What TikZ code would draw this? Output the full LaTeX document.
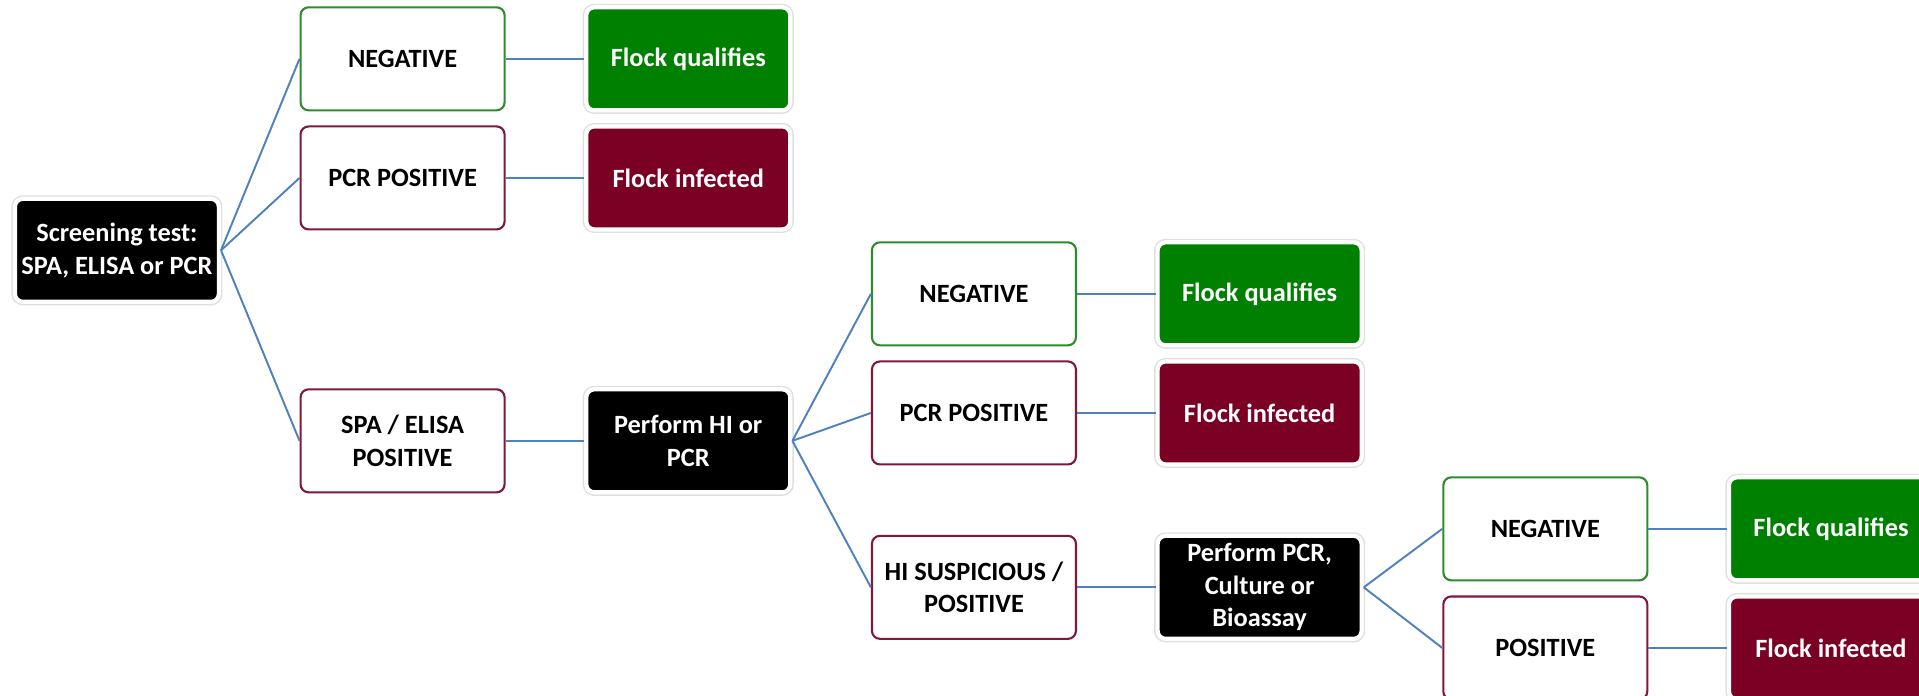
\documentclass[tikz,border=0pt]{standalone}
\usepackage{fontspec}
\setmainfont{Carlito}
\usetikzlibrary{positioning}
\definecolor{okgreen}{RGB}{0,128,0}
\definecolor{badred}{RGB}{122,0,36}
\definecolor{okedge}{RGB}{46,139,46}
\definecolor{badedge}{RGB}{128,24,56}
\definecolor{linkblue}{RGB}{79,129,189}
\tikzstyle{basebox} = [rectangle, rounded corners=0.16cm, minimum width=4.08cm, minimum height=2.06cm,
                       text centered, align=center, font=\fontsize{15}{18.5}\selectfont\bfseries]
\tikzstyle{solidbox} = [basebox, text=white, draw=white, line width=2.4pt,
                        preaction={draw=gray!25, line width=4pt}]
\tikzstyle{testbox} = [solidbox, fill=black]
\tikzstyle{passbox} = [solidbox, fill=okgreen]
\tikzstyle{failbox} = [solidbox, fill=badred]
\tikzstyle{negbox} = [basebox, fill=white, draw=okedge, line width=1.2pt]
\tikzstyle{posbox} = [basebox, fill=white, draw=badedge, line width=1.2pt]
\tikzstyle{link} = [linkblue, line width=1.1pt]

\begin{document}
\begin{tikzpicture}[node distance=0.28cm and 1.57cm]
    \useasboundingbox (-2.338,-8.894) rectangle (36.04,5.006);
    % Screening
    \node[testbox] (screen) {Screening test:\\SPA, ELISA or PCR};
    \node[negbox, right=of screen, yshift=3.83cm] (neg1) {NEGATIVE};
    \node[posbox, below=of neg1] (pcr1) {PCR POSITIVE};
    \node[passbox, right=of neg1] (ok1) {Flock qualifies};
    \node[failbox, right=of pcr1] (bad1) {Flock infected};
    \node[posbox, right=of screen, yshift=-3.81cm] (spapos) {SPA / ELISA\\POSITIVE};

    % HI or PCR
    \node[testbox, right=of spapos] (hitest) {Perform HI or\\PCR};
    \node[negbox, right=of hitest, yshift=2.94cm] (neg2) {NEGATIVE};
    \node[posbox, below=of neg2] (pcr2) {PCR POSITIVE};
    \node[passbox, right=of neg2] (ok2) {Flock qualifies};
    \node[failbox, right=of pcr2] (bad2) {Flock infected};
    \node[posbox, right=of hitest, yshift=-2.93cm] (hisusp) {HI SUSPICIOUS /\\POSITIVE};

    % PCR, culture or bioassay
    \node[testbox, right=of hisusp] (lasttest) {Perform PCR,\\Culture or\\Bioassay};
    \node[negbox, right=of lasttest, yshift=1.17cm] (neg3) {NEGATIVE};
    \node[posbox, below=of neg3] (pos3) {POSITIVE};
    \node[passbox, right=of neg3] (ok3) {Flock qualifies};
    \node[failbox, right=of pos3] (bad3) {Flock infected};

    % Links
    \draw[link] (screen.east) -- (neg1.west);
    \draw[link] (screen.east) -- (pcr1.west);
    \draw[link] (screen.east) -- (spapos.west);
    \draw[link] (neg1) -- (ok1);
    \draw[link] (pcr1) -- (bad1);
    \draw[link] (spapos) -- (hitest);

    \draw[link] (hitest.east) -- (neg2.west);
    \draw[link] (hitest.east) -- (pcr2.west);
    \draw[link] (hitest.east) -- (hisusp.west);
    \draw[link] (neg2) -- (ok2);
    \draw[link] (pcr2) -- (bad2);
    \draw[link] (hisusp) -- (lasttest);

    \draw[link] (lasttest.east) -- (neg3.west);
    \draw[link] (lasttest.east) -- (pos3.west);
    \draw[link] (neg3) -- (ok3);
    \draw[link] (pos3) -- (bad3);
\end{tikzpicture}
\end{document}
